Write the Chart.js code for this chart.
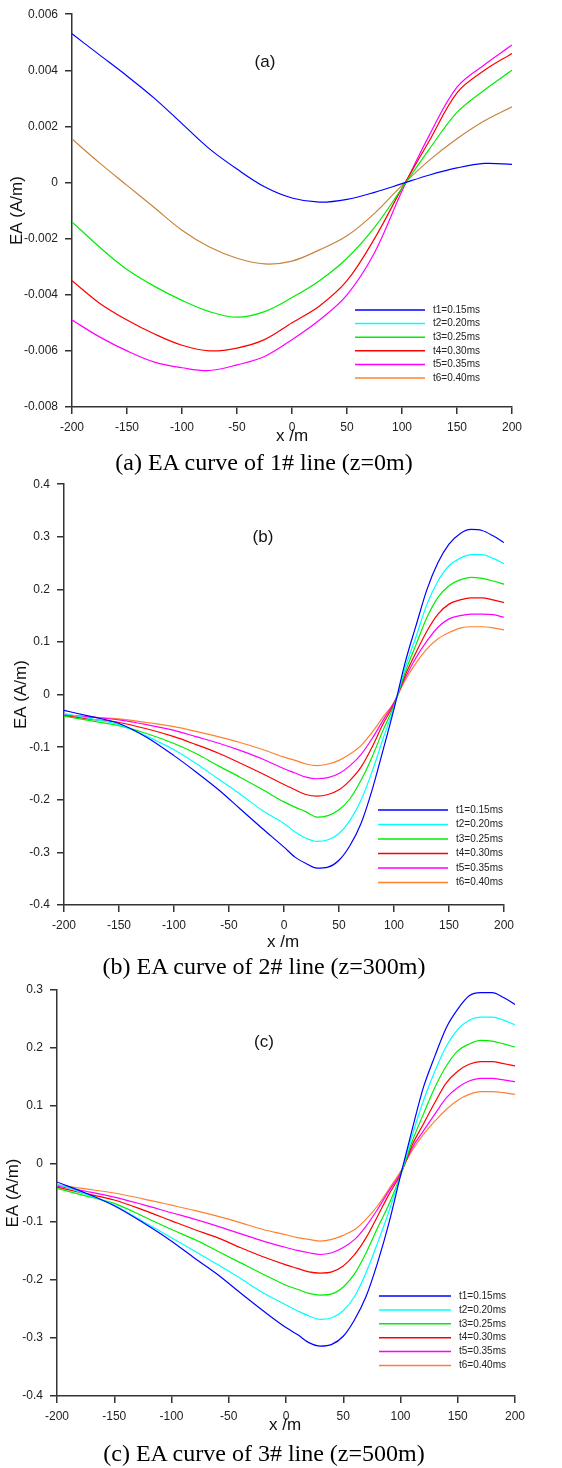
<!DOCTYPE html>
<html>
<head>
<meta charset="utf-8">
<script src="https://cdn.jsdelivr.net/npm/chart.js@4.4.1/dist/chart.umd.min.js"></script>
<style>
  body { margin: 0; background: #fff; width: 562px; height: 1468px; position: relative; overflow: hidden; }
  canvas { position: absolute; left: 0; }
  .lbl { position: absolute; transform: translate(-50%, -50%); white-space: nowrap; font-family: "Liberation Sans", Arial, sans-serif; color: #111; }
  .cap { position: absolute; transform: translate(-50%, -50%); white-space: nowrap; font-family: "Liberation Serif", "Times New Roman", serif; font-size: 24px; color: #000; }
</style>
</head>
<body>
<canvas id="chartA" width="562" height="450" style="top:0px"></canvas>
<canvas id="chartB" width="562" height="480" style="top:470px"></canvas>
<canvas id="chartC" width="562" height="460" style="top:975px"></canvas>

<div class="lbl" style="left:265px;top:62px;font-size:17px">(a)</div>
<div class="lbl" style="left:292px;top:436px;font-size:17px">x /m</div>
<div class="cap" style="left:264px;top:462px">(a) EA curve of 1# line (z=0m)</div>

<div class="lbl" style="left:263px;top:537px;font-size:17px">(b)</div>
<div class="lbl" style="left:283px;top:942px;font-size:17px">x /m</div>
<div class="cap" style="left:264px;top:966px">(b) EA curve of 2# line (z=300m)</div>

<div class="lbl" style="left:264px;top:1042px;font-size:17px">(c)</div>
<div class="lbl" style="left:285px;top:1425px;font-size:17px">x /m</div>
<div class="cap" style="left:264px;top:1453px">(c) EA curve of 3# line (z=500m)</div>

<script>
// series labels shared by all three panels
const seriesLabels = ["t1=0.15ms", "t2=0.20ms", "t3=0.25ms", "t4=0.30ms", "t5=0.35ms", "t6=0.40ms"];
const xTicks = [-200, -150, -100, -50, 0, 50, 100, 150, 200];

// (a) 1# line, z=0m
const xA = [-200, -175, -150, -125, -100, -75, -50, -25, 0, 25, 50, 75, 100, 125, 150, 175, 200];
const t1A = [0.0053, 0.00455, 0.0038, 0.0030, 0.0021, 0.0012, 0.00048, -0.00015, -0.00055, -0.0007, -0.0006, -0.00035, -0.00004, 0.00027, 0.00052, 0.00068, 0.00065];
const t2A = [];
const t3A = [-0.0014, -0.0023, -0.0031, -0.0037, -0.0042, -0.0046, -0.0048, -0.0046, -0.0041, -0.0035, -0.0027, -0.0016, -0.0002, 0.0012, 0.0025, 0.0033, 0.0040];
const t4A = [-0.0035, -0.0043, -0.0049, -0.0054, -0.0058, -0.0060, -0.0059, -0.0056, -0.0050, -0.0044, -0.0035, -0.0020, -0.0002, 0.0015, 0.0032, 0.0040, 0.0046];
const t5A = [-0.0049, -0.0055, -0.0060, -0.0064, -0.0066, -0.0067, -0.0065, -0.0062, -0.0056, -0.0049, -0.0040, -0.0025, -0.0003, 0.0017, 0.0034, 0.0042, 0.0049];
const t6A = [0.00155, 0.0007, -0.0001, -0.0009, -0.0017, -0.0023, -0.0027, -0.0029, -0.0028, -0.0024, -0.0019, -0.0011, -0.0001, 0.0008, 0.00156, 0.0022, 0.0027];
const yTicksA = [-0.008, -0.006, -0.004, -0.002, 0, 0.002, 0.004, 0.006];
const yLabelsA = ["-0.008", "-0.006", "-0.004", "-0.002", "0", "0.002", "0.004", "0.006"];

// (b) 2# line, z=300m
const xB = [-200, -175, -150, -125, -100, -80, -60, -40, -20, 0, 10, 20, 30, 40, 50, 60, 70, 80, 90, 100, 110, 120, 130, 140, 150, 160, 170, 180, 190, 200];
const t1B = [-0.030, -0.042, -0.055, -0.081, -0.116, -0.147, -0.180, -0.217, -0.254, -0.290, -0.309, -0.321, -0.330, -0.328, -0.315, -0.287, -0.245, -0.182, -0.106, -0.027, 0.060, 0.131, 0.200, 0.251, 0.286, 0.306, 0.314, 0.312, 0.302, 0.289];
const t2B = [-0.036, -0.046, -0.057, -0.079, -0.105, -0.131, -0.160, -0.189, -0.220, -0.245, -0.261, -0.273, -0.279, -0.276, -0.264, -0.239, -0.201, -0.147, -0.084, -0.024, 0.050, 0.110, 0.172, 0.216, 0.245, 0.259, 0.266, 0.266, 0.259, 0.249];
const t3B = [-0.041, -0.050, -0.059, -0.074, -0.093, -0.112, -0.135, -0.157, -0.180, -0.204, -0.214, -0.223, -0.233, -0.230, -0.219, -0.198, -0.163, -0.119, -0.068, -0.021, 0.042, 0.095, 0.147, 0.185, 0.207, 0.218, 0.223, 0.221, 0.216, 0.210];
const t4B = [-0.040, -0.047, -0.053, -0.065, -0.080, -0.095, -0.111, -0.130, -0.150, -0.171, -0.181, -0.190, -0.193, -0.190, -0.181, -0.163, -0.138, -0.100, -0.056, -0.018, 0.036, 0.080, 0.121, 0.153, 0.172, 0.180, 0.184, 0.184, 0.180, 0.175];
const t5B = [-0.038, -0.043, -0.048, -0.057, -0.068, -0.080, -0.092, -0.106, -0.122, -0.141, -0.149, -0.157, -0.160, -0.158, -0.150, -0.135, -0.114, -0.084, -0.049, -0.015, 0.031, 0.070, 0.102, 0.128, 0.144, 0.150, 0.153, 0.153, 0.152, 0.147];
const t6B = [-0.039, -0.043, -0.046, -0.053, -0.061, -0.070, -0.080, -0.091, -0.104, -0.119, -0.125, -0.132, -0.135, -0.132, -0.125, -0.113, -0.097, -0.072, -0.043, -0.015, 0.027, 0.060, 0.087, 0.106, 0.118, 0.1265, 0.129, 0.129, 0.127, 0.123];
const yTicksB = [-0.4, -0.3, -0.2, -0.1, 0, 0.1, 0.2, 0.3, 0.4];
const yLabelsB = ["-0.4", "-0.3", "-0.2", "-0.1", "0", "0.1", "0.2", "0.3", "0.4"];

// (c) 3# line, z=500m
const xC = [-200, -175, -150, -125, -100, -80, -60, -40, -20, 0, 10, 20, 30, 40, 50, 60, 70, 80, 90, 100, 110, 120, 130, 140, 150, 160, 170, 180, 190, 200];
const t1C = [-0.031, -0.050, -0.072, -0.101, -0.133, -0.162, -0.190, -0.222, -0.253, -0.282, -0.294, -0.308, -0.314, -0.311, -0.297, -0.268, -0.228, -0.170, -0.101, -0.020, 0.058, 0.132, 0.186, 0.235, 0.267, 0.290, 0.2954, 0.2954, 0.287, 0.275];
const t2C = [-0.034, -0.052, -0.071, -0.099, -0.127, -0.150, -0.173, -0.197, -0.222, -0.243, -0.253, -0.262, -0.268, -0.265, -0.253, -0.228, -0.187, -0.136, -0.081, -0.020, 0.048, 0.109, 0.160, 0.203, 0.232, 0.248, 0.2534, 0.2534, 0.248, 0.240];
const t3C = [-0.042, -0.055, -0.068, -0.090, -0.113, -0.130, -0.150, -0.170, -0.190, -0.209, -0.216, -0.223, -0.226, -0.224, -0.212, -0.189, -0.153, -0.110, -0.069, -0.020, 0.038, 0.086, 0.132, 0.169, 0.195, 0.207, 0.213, 0.212, 0.207, 0.2017];
const t4C = [-0.040, -0.051, -0.062, -0.079, -0.098, -0.113, -0.127, -0.144, -0.160, -0.174, -0.180, -0.186, -0.188, -0.186, -0.176, -0.156, -0.127, -0.090, -0.052, -0.018, 0.032, 0.069, 0.106, 0.140, 0.160, 0.172, 0.1764, 0.1764, 0.173, 0.169];
const t5C = [-0.038, -0.047, -0.057, -0.070, -0.084, -0.095, -0.107, -0.120, -0.133, -0.144, -0.149, -0.153, -0.156, -0.153, -0.144, -0.130, -0.107, -0.078, -0.046, -0.016, 0.027, 0.057, 0.086, 0.114, 0.132, 0.143, 0.1477, 0.1477, 0.145, 0.142];
const t6C = [-0.036, -0.043, -0.050, -0.060, -0.071, -0.080, -0.090, -0.101, -0.113, -0.122, -0.127, -0.130, -0.133, -0.130, -0.123, -0.113, -0.095, -0.072, -0.043, -0.013, 0.023, 0.051, 0.074, 0.094, 0.110, 0.120, 0.1247, 0.1247, 0.123, 0.120];
const yTicksC = [-0.4, -0.3, -0.2, -0.1, 0, 0.1, 0.2, 0.3];
const yLabelsC = ["-0.4", "-0.3", "-0.2", "-0.1", "0", "0.1", "0.2", "0.3"];

const lineColors = ["#0000ff", "#00ffff", "#00ee00", "#ff0000", "#ff00ff", "#ff8030"];
const axisColor = "#333";
const tickFont = { family: "'Liberation Sans', Arial, sans-serif", size: 12 };

// legend drawn inside the plot area, bottom right
const insideLegend = {
    id: "insideLegend",
    afterDatasetsDraw(chart, args, opts) {
        const ctx = chart.ctx;
        ctx.save();
        ctx.font = "10px 'Liberation Sans', Arial, sans-serif";
        ctx.textBaseline = "middle";
        chart.data.datasets.forEach((ds, i) => {
            const y = opts.y + i * opts.dy;
            ctx.strokeStyle = ds.legendColor || ds.borderColor;
            ctx.lineWidth = 1.5;
            ctx.beginPath();
            ctx.moveTo(opts.x, y);
            ctx.lineTo(opts.x + opts.len, y);
            ctx.stroke();
            ctx.fillStyle = "#222";
            ctx.fillText(ds.label, opts.x + opts.len + 8, y);
        });
        ctx.restore();
    }
};

function makeDatasets(xs, series, curveColors, smooth) {
    return series.map((ys, i) => ({
        label: seriesLabels[i],
        data: ys.map((y, j) => ({ x: xs[j], y: y })),
        borderColor: curveColors[i],
        legendColor: lineColors[i],
        borderWidth: 1.2,
        pointRadius: 0,
        fill: false,
        tension: smooth ? 0.35 : 0,
        cubicInterpolationMode: smooth ? "default" : "monotone"
    }));
}

function makeChart(id, p) {
    new Chart(document.getElementById(id), {
        type: "line",
        data: { datasets: makeDatasets(p.xs, p.series, p.colors, p.smooth) },
        plugins: [insideLegend],
        options: {
            responsive: false,
            animation: false,
            layout: { padding: { top: p.top, right: p.right, left: 0, bottom: 0 } },
            plugins: {
                legend: { display: false },
                tooltip: { enabled: false },
                insideLegend: p.legend
            },
            scales: {
                x: {
                    type: "linear",
                    min: -200,
                    max: 200,
                    afterFit: s => { s.height = p.xHeight; },
                    afterBuildTicks: s => { s.ticks = xTicks.map(v => ({ value: v })); },
                    ticks: { font: tickFont, color: "#222", padding: 6, maxRotation: 0 },
                    grid: { drawOnChartArea: false, drawTicks: true, tickLength: 7, color: axisColor, lineWidth: 1.5 },
                    border: { color: axisColor, width: 1.5 }
                },
                y: {
                    min: p.yTicks[0],
                    max: p.yTicks[p.yTicks.length - 1],
                    afterFit: s => { s.width = p.left; },
                    afterBuildTicks: s => { s.ticks = p.yTicks.map(v => ({ value: v })); },
                    ticks: { font: tickFont, color: "#222", padding: 7, callback: (v, i) => p.yLabels[i] },
                    grid: { drawOnChartArea: false, drawTicks: true, tickLength: 7, color: axisColor, lineWidth: 1.5 },
                    border: { color: axisColor, width: 1.5 },
                    title: {
                        display: true,
                        text: "EA (A/m)",
                        color: "#111",
                        font: { family: "'Liberation Sans', Arial, sans-serif", size: 17 },
                        padding: { top: p.titlePad, bottom: 0 }
                    }
                }
            }
        }
    });
}

const colorsA = ["#0000ff", "#00ffff", "#00ee00", "#ff0000", "#ff00ff", "#c8843c"];

makeChart("chartA", {
    xs: xA, series: [t1A, t2A, t3A, t4A, t5A, t6A], colors: colorsA, smooth: true,
    yTicks: yTicksA, yLabels: yLabelsA,
    top: 12, right: 50, left: 72, xHeight: 43, titlePad: 7,
    legend: { x: 355, y: 310, dy: 13.6, len: 70 }
});

makeChart("chartB", {
    xs: xB, series: [t1B, t2B, t3B, t4B, t5B, t6B], colors: lineColors, smooth: false,
    yTicks: yTicksB, yLabels: yLabelsB,
    top: 13, right: 58, left: 64, xHeight: 45, titlePad: 11,
    legend: { x: 378, y: 340, dy: 14.5, len: 70 }
});

makeChart("chartC", {
    xs: xC, series: [t1C, t2C, t3C, t4C, t5C, t6C], colors: lineColors, smooth: false,
    yTicks: yTicksC, yLabels: yLabelsC,
    top: 15, right: 47, left: 57, xHeight: 39, titlePad: 3,
    legend: { x: 379, y: 321, dy: 13.9, len: 72 }
});
</script>
</body>
</html>
